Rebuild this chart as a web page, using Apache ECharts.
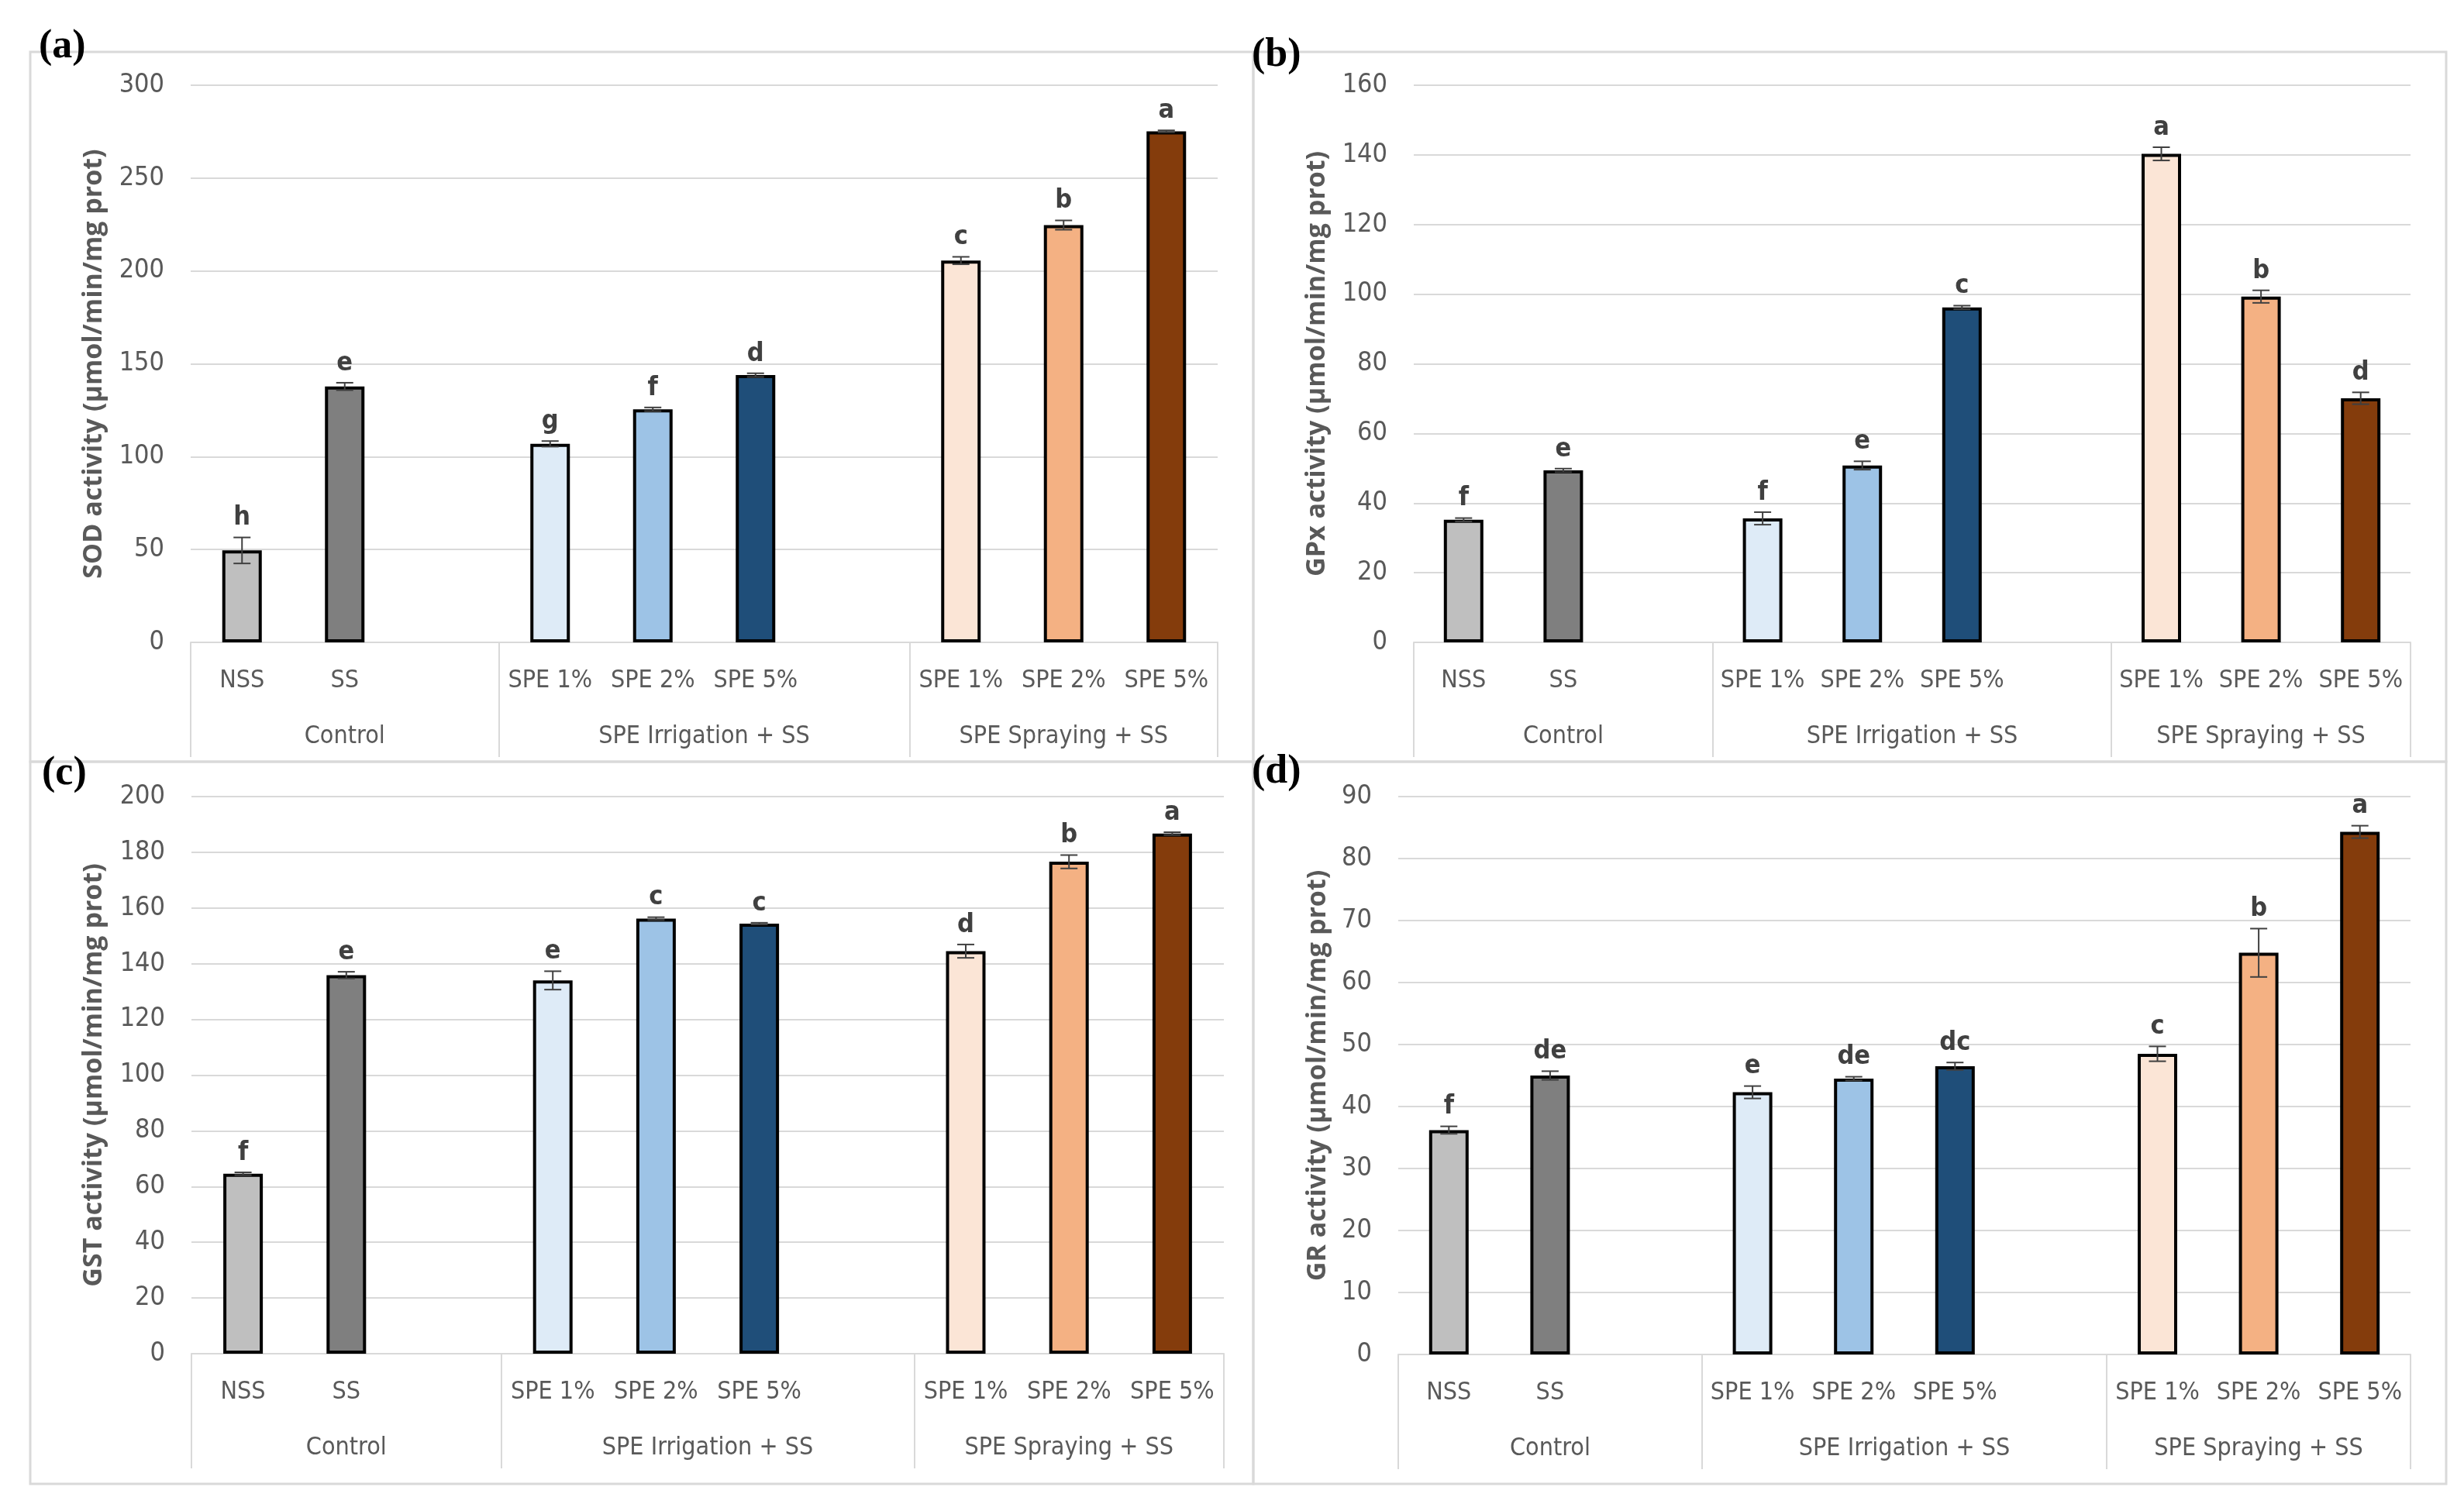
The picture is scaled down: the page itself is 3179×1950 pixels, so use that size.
<!DOCTYPE html>
<html><head><meta charset="utf-8">
<script src="https://cdn.jsdelivr.net/npm/echarts@6/dist/echarts.min.js"></script>
<style>html,body{margin:0;padding:0;background:#fff}#c{width:3179px;height:1950px}</style>
</head><body><div id="c"></div>
<script>
// ---- data ----
const categories = ['NSS','SS','','SPE 1%','SPE 2%','SPE 5%','','SPE 1%','SPE 2%','SPE 5%'];
const groups = ['Control','SPE Irrigation + SS','SPE Spraying + SS'];
const groupSizes = [3,4,3];
const barColors = ['#bfbfbf','#7f7f7f',null,'#deebf7','#9dc3e6','#1f4e79',null,'#fbe5d6','#f4b183','#843c0c'];

const sodMean = [49.5,137.8,null,106.9,125.5,143.9,null,205.6,224.7,275.2];
const sodErr  = [7.0,2.0,null,1.5,1.0,1.0,null,2.0,2.5,0.5];
const sodLetters = ['h','e','','g','f','d','','c','b','a'];

const gpxMean = [35.2,49.4,null,35.6,50.8,96.2,null,140.3,99.3,70.1];
const gpxErr  = [0.5,0.5,null,1.8,1.2,0.5,null,1.9,1.8,1.7];
const gpxLetters = ['f','e','','f','e','c','','a','b','d'];

const gstMean = [64.6,135.9,null,134.0,156.2,154.4,null,144.5,176.6,186.7];
const gstErr  = [0.5,1.2,null,3.3,0.5,0.3,null,2.4,2.4,0.5];
const gstLetters = ['f','e','','e','c','c','','d','b','a'];

const grMean = [36.2,45.0,null,42.3,44.5,46.5,null,48.5,64.8,84.3];
const grErr  = [0.6,0.7,null,1.0,0.3,0.6,null,1.2,3.9,1.0];
const grLetters = ['f','de','','e','de','dc','','c','b','a'];

const yMax = [300,160,200,90];
const yStep = [50,20,20,10];
const yTitles = ['SOD activity (µmol/min/mg prot)','GPx activity (µmol/min/mg prot)','GST activity (µmol/min/mg prot)','GR activity (µmol/min/mg prot)'];
const panelTags = ['(a)','(b)','(c)','(d)'];

// ---- layout ----
const layout = [
  {grid:{left:246,top:110,width:1325,height:719}, nameGap:108, box:[39,67,1578,916], tag:[50,61]},
  {grid:{left:1824,top:110,width:1286,height:719}, nameGap:108, box:[1617,67,1539,916], tag:[1615,72]},
  {grid:{left:247,top:1028,width:1332,height:719}, nameGap:109, box:[39,983,1578,932], tag:[54,999]},
  {grid:{left:1804,top:1028,width:1306,height:720}, nameGap:87, box:[1617,983,1539,932], tag:[1615,997]}
];
const panelData = [
  [sodMean,sodErr,sodLetters],[gpxMean,gpxErr,gpxLetters],
  [gstMean,gstErr,gstLetters],[grMean,grErr,grLetters]
];

const GRID_C = '#d9d9d9';
const LBL_C = '#595959';
const NARROW = '"Liberation Sans Narrow","Arial Narrow","DejaVu Sans Condensed",sans-serif';

// group boundaries/centres derived from group sizes
const bounds = [0]; groupSizes.forEach(s => bounds.push(bounds[bounds.length-1]+s));
const centres = groupSizes.map((s,i) => bounds[i] + s/2);

const option = {
  backgroundColor:'#fff',
  animation:false,
  grid:[], xAxis:[], yAxis:[], series:[], graphic:[]
};

layout.forEach((L,k) => {
  const [mean, err, letters] = panelData[k];
  option.grid.push(Object.assign({containLabel:false}, L.grid));
  option.xAxis.push({
    type:'category', gridIndex:k, data:categories,
    axisLine:{show:true, lineStyle:{color:GRID_C, width:2}},
    axisTick:{show:false},
    axisLabel:{interval:0, margin:33, color:LBL_C, fontFamily:NARROW, fontSize:32, lineHeight:34},
    splitLine:{show:false}
  });
  option.xAxis.push({
    type:'value', gridIndex:k, min:0, max:categories.length, position:'bottom',
    axisLine:{show:false},
    axisTick:{show:true, inside:false, length:148, customValues:bounds, lineStyle:{color:GRID_C, width:2}},
    axisLabel:{show:true, margin:105, customValues:centres, color:LBL_C, fontFamily:NARROW, fontSize:32, lineHeight:34,
      formatter:(v)=>{ const i = centres.indexOf(v); return i>=0 ? groups[i] : ''; }},
    splitLine:{show:false}
  });
  option.yAxis.push({
    type:'value', gridIndex:k, min:0, max:yMax[k], interval:yStep[k],
    axisLine:{show:false}, axisTick:{show:false},
    axisLabel:{margin:34, color:LBL_C, fontFamily:NARROW, fontSize:34},
    splitLine:{show:true, lineStyle:{color:GRID_C, width:2}},
    name:yTitles[k], nameLocation:'middle', nameRotate:90, nameGap:L.nameGap, nameMoveOverlap:false,
    nameTextStyle:{fontFamily:'"Open Sans",sans-serif', fontWeight:700, fontSize:34, color:LBL_C}
  });
  option.series.push({
    type:'bar', xAxisIndex:2*k, yAxisIndex:k, barWidth:51,
    itemStyle:{borderColor:'#000', borderWidth:4},
    data: mean.map((v,i)=> v==null ? '-' : {value:v, itemStyle:{color:barColors[i]}}),
    z:2
  });
  const eb = [];
  mean.forEach((v,i)=>{ if(v!=null) eb.push([i, v, err[i]]); });
  option.series.push({
    type:'custom', xAxisIndex:2*k, yAxisIndex:k, clip:false, z:5,
    data: eb,
    renderItem:(params, api)=>{
      const idx = api.value(0), m = api.value(1), e = api.value(2);
      const t = api.coord([idx, m+e]), b = api.coord([idx, m-e]);
      const w = 11;
      const st = {stroke:'#404040', lineWidth:2};
      return {type:'group', children:[
        {type:'line', shape:{x1:t[0],y1:t[1],x2:b[0],y2:b[1]}, style:st},
        {type:'line', shape:{x1:t[0]-w,y1:t[1],x2:t[0]+w,y2:t[1]}, style:st},
        {type:'line', shape:{x1:b[0]-w,y1:b[1],x2:b[0]+w,y2:b[1]}, style:st},
        {type:'text', x:t[0], y:t[1]-8, style:{text:letters[idx], fill:'#404040',
          font:'bold 34px ' + NARROW, align:'center', verticalAlign:'bottom'}}
      ]};
    }
  });
  option.graphic.push({type:'rect', shape:{x:L.box[0], y:L.box[1], width:L.box[2], height:L.box[3]},
    style:{fill:null, stroke:GRID_C, lineWidth:3}, z:-1});
  option.graphic.push({type:'text', x:L.tag[0], y:L.tag[1], z:10,
    style:{text:panelTags[k], fill:'#000', font:'bold 52px "Liberation Serif","Times New Roman",serif', align:'left', verticalAlign:'middle'}});
});

const chart = echarts.init(document.getElementById('c'), null, {renderer:'canvas'});
chart.setOption(option);
</script></body></html>
